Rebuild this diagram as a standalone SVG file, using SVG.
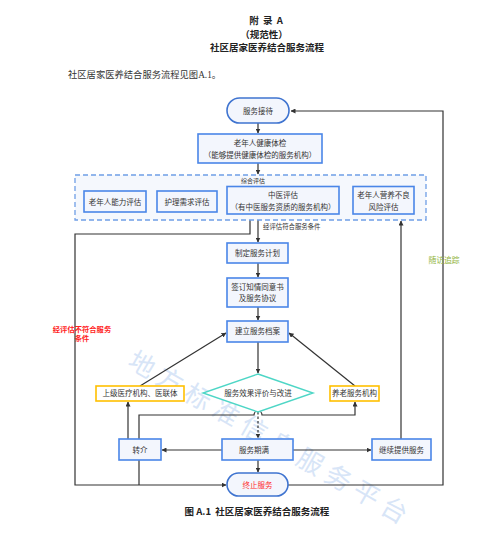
<svg xmlns="http://www.w3.org/2000/svg" width="499" height="543" viewBox="0 0 499 543">
<defs>
<marker id="ah" viewBox="0 0 10 10" refX="9" refY="5" markerWidth="5" markerHeight="5" orient="auto-start-reverse" markerUnits="userSpaceOnUse">
<path d="M0,0 L10,5 L0,10 z" fill="#333"/>
</marker>
<style>
text{font-family:"Noto Sans CJK SC","Liberation Sans",sans-serif;fill:#333;}
.t{font-size:7.5px;text-anchor:middle;}
.box{fill:#f3f6fd;stroke:#4a86e8;stroke-width:1.6;}
.pill{fill:#f3f6fd;stroke:#3f74d0;stroke-width:1.6;}
.org{fill:#fff;stroke:#ffc000;stroke-width:1.6;}
.dia{fill:#fff;stroke:#4ed6c6;stroke-width:1.4;}
.con{fill:none;stroke:#333;stroke-width:1.2;}
.hd{font-size:9.5px;font-weight:bold;text-anchor:middle;fill:#222;}
</style>
</defs>
<rect width="499" height="543" fill="#fff"/>
<g id="header">
<text class="hd" x="266" y="24" xml:space="preserve">附  录  A</text>
<text class="hd" x="264" y="38">（规范性）</text>
<text class="hd" x="267" y="51">社区居家医养结合服务流程</text>
<text x="68" y="78" style="font-size:9.3px;font-family:'Liberation Serif','Noto Sans CJK SC',serif;">社区居家医养结合服务流程见图A.1。</text>
</g>
<g id="watermark" opacity="0.45">
<text x="126" y="366" transform="rotate(30 126 366)" style="font-size:26px;letter-spacing:6.4px;fill:#a9c6ef;">地方标准信息服务平台</text>
</g>
<g id="connectors">
<path class="con" d="M258,123 V133" marker-end="url(#ah)"/>
<path class="con" d="M258,163 V174" marker-end="url(#ah)"/>
<path class="con" d="M258,220 V242" marker-end="url(#ah)"/>
<path class="con" d="M250,220 V234 H75 V485 H226" marker-end="url(#ah)"/>
<path class="con" d="M258,263 V277" marker-end="url(#ah)"/>
<path class="con" d="M258,307 V320" marker-end="url(#ah)"/>
<path class="con" d="M258,342 V373" marker-end="url(#ah)"/>
<path class="con" d="M140,386 L226,333" marker-end="url(#ah)"/>
<path class="con" d="M355,386 L289,333" marker-end="url(#ah)"/>
<path class="con" d="M139,439 V415 H254 A4,4 0 0 1 262,415 H355 V402" marker-end="url(#ah)"/>
<path class="con" d="M258,412 V438" stroke-dasharray="2.5,2" marker-end="url(#ah)"/>
<path class="con" d="M128,439 V402" marker-end="url(#ah)"/>
<path class="con" d="M222,450 H162" marker-end="url(#ah)"/>
<path class="con" d="M293,450 H371" marker-end="url(#ah)"/>
<path class="con" d="M258,460 V472" marker-end="url(#ah)"/>
<path class="con" d="M139,460 V485"/>
<path class="con" d="M288,485 H443 V111 H291" marker-end="url(#ah)"/>
<path class="con" d="M401,439 V221" marker-end="url(#ah)"/>
<text x="263" y="229" style="font-size:6.4px;">经评估符合服务条件</text>
<text x="82" y="332" style="font-size:7.3px;font-weight:bold;fill:#ff2222;text-anchor:middle;">经评估不符合服务</text>
<text x="82" y="341" style="font-size:7.3px;font-weight:bold;fill:#ff2222;text-anchor:middle;">条件</text>
<text x="444" y="263" style="font-size:7.8px;fill:#8fb339;text-anchor:middle;">随访追踪</text>
</g>
<g id="n-reception">
<rect class="pill" x="227" y="98" width="62" height="25" rx="12.5"/>
<text class="t" x="258" y="113.5">服务接待</text>
</g>
<g id="n-checkup">
<rect class="box" x="198" y="134" width="124" height="29"/>
<text class="t" x="260" y="146">老年人健康体检</text>
<text class="t" x="260" y="158">（能够提供健康体检的服务机构）</text>
</g>
<g id="n-assessment">
<rect x="75" y="175" width="351" height="45" fill="#f5f8fd" stroke="#6f9ee6" stroke-width="1.3" stroke-dasharray="5,3"/>
<text x="253" y="183" style="font-size:6px;text-anchor:middle;">综合评估</text>
</g>
<g id="n-ability">
<rect class="box" x="84" y="191" width="62" height="21"/>
<text class="t" x="115" y="204.5">老年人能力评估</text>
</g>
<g id="n-nursing">
<rect class="box" x="157" y="191" width="60" height="21"/>
<text class="t" x="187" y="204.5">护理需求评估</text>
</g>
<g id="n-tcm">
<rect class="box" x="227" y="186.5" width="112" height="27.5"/>
<text class="t" x="283" y="198">中医评估</text>
<text class="t" x="283" y="209.5">（有中医服务资质的服务机构）</text>
</g>
<g id="n-nutrition">
<rect class="box" x="353" y="186.5" width="61" height="27.5"/>
<text class="t" x="383.5" y="198">老年人营养不良</text>
<text class="t" x="383.5" y="209.5">风险评估</text>
</g>
<g id="n-plan">
<rect class="box" x="227" y="243" width="61" height="20"/>
<text class="t" x="257.5" y="255.5">制定服务计划</text>
</g>
<g id="n-consent">
<rect class="box" x="227" y="278" width="61" height="29"/>
<text class="t" x="257.5" y="290">签订知情同意书</text>
<text class="t" x="257.5" y="301">及服务协议</text>
</g>
<g id="n-archive">
<rect class="box" x="227" y="321" width="61" height="21"/>
<text class="t" x="257.5" y="334">建立服务档案</text>
</g>
<g id="n-hospital">
<rect class="org" x="96" y="386" width="88" height="15"/>
<text class="t" x="140" y="396">上级医疗机构、医联体</text>
</g>
<g id="n-evaluate">
<polygon class="dia" points="258,374 313,393 258,412 203,393"/>
<text class="t" x="258" y="396">服务效果评价与改进</text>
</g>
<g id="n-elderly">
<rect class="org" x="330" y="386" width="49" height="15"/>
<text class="t" x="354.5" y="396">养老服务机构</text>
</g>
<g id="n-referral">
<rect class="box" x="119" y="439" width="42" height="21"/>
<text class="t" x="140" y="452.5">转介</text>
</g>
<g id="n-expire">
<rect class="box" x="222" y="439" width="71" height="21"/>
<text class="t" x="254" y="452.5">服务期满</text>
</g>
<g id="n-continue">
<rect class="box" x="372" y="439" width="59" height="21"/>
<text class="t" x="401.5" y="452.5">继续提供服务</text>
</g>
<g id="n-terminate">
<rect class="pill" x="227" y="473" width="61" height="23" rx="11.5"/>
<text class="t" x="257.5" y="487.5" style="fill:#ff2b2b;">终止服务</text>
</g>
<g id="caption">
<text class="hd" x="257" y="515" xml:space="preserve">图 A.1  社区居家医养结合服务流程</text>
</g>
</svg>
